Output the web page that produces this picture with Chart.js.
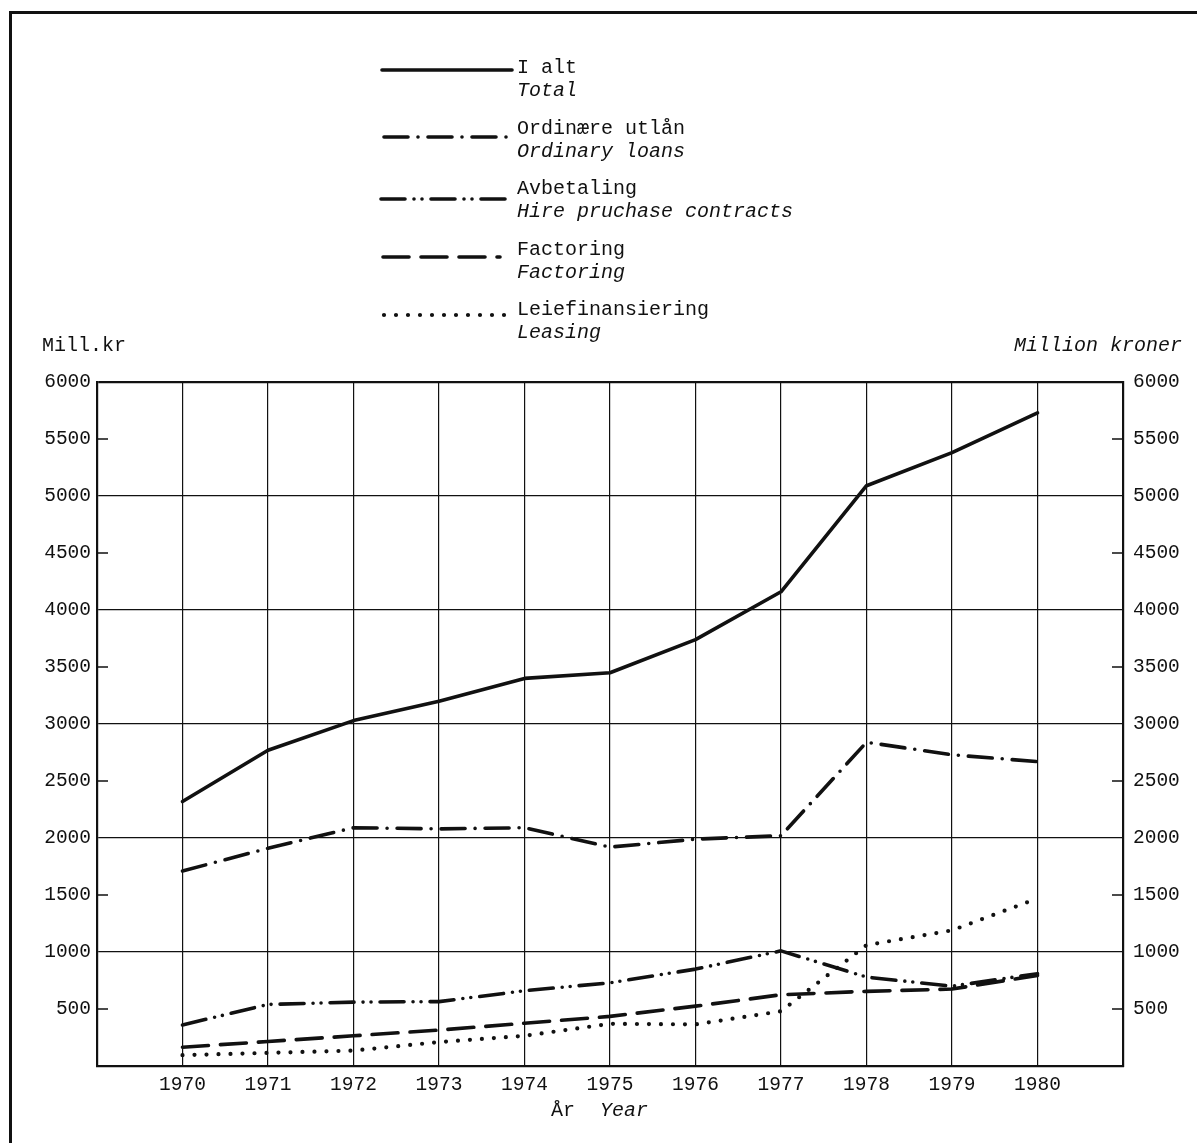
<!DOCTYPE html>
<html>
<head>
<meta charset="utf-8">
<script src="https://cdn.jsdelivr.net/npm/chart.js@4.4.1/dist/chart.umd.min.js"></script>
<style>
  html, body { margin: 0; padding: 0; background: #fff; }
  #wrap { position: relative; width: 1197px; height: 1143px; }
  #frame { position: absolute; left: 9px; top: 11px; right: 0; bottom: 0;
           border-left: 3px solid #111; border-top: 3px solid #111; pointer-events: none; }
</style>
</head>
<body>
<div id="wrap">
  <canvas id="chart"></canvas>
  <div id="frame"></div>
</div>
<script>
// ─── DATA (million kroner) ──────────────────────────────────────────────────
const YEARS = [1970, 1971, 1972, 1973, 1974, 1975, 1976, 1977, 1978, 1979, 1980];
const TOTAL    = [2320, 2770, 3030, 3200, 3400, 3450, 3740, 4160, 5090, 5380, 5730];
const ORDINARY = [1710, 1910, 2090, 2080, 2090, 1920, 1990, 2020, 2840, 2730, 2670];
const HIRE     = [360, 540, 560, 565, 660, 730, 850, 1010, 780, 700, 810];
const FACTOR   = [165, 215, 265, 315, 375, 435, 525, 625, 655, 675, 795];
const LEASING  = [95, 115, 135, 210, 265, 370, 365, 480, 1060, 1190, 1470];
const Y_TICKS = [500, 1000, 1500, 2000, 2500, 3000, 3500, 4000, 4500, 5000, 5500, 6000];

const FONT = '"Liberation Mono", "DejaVu Sans Mono", monospace';
const INK = '#111';

// line styles shared by plot and legend
const STYLES = {
  total:    { width: 3.6, dash: [] },
  ordinary: { width: 3.6, dash: [24, 10, 0, 10] },
  hire:     { width: 3.6, dash: [24, 9, 0, 8, 0, 9] },
  factor:   { width: 3.6, dash: [26, 12] },
  leasing:  { width: 4.2, dash: [0, 12] },
};

const LEGEND = [
  { key: 'total',    no: 'I alt',            en: 'Total',                   y: 68,  ly: 70,  x1: 382, x2: 512 },
  { key: 'ordinary', no: 'Ordinære utlån',   en: 'Ordinary loans',          y: 129, ly: 137, x1: 384, x2: 508 },
  { key: 'hire',     no: 'Avbetaling',       en: 'Hire pruchase contracts', y: 189, ly: 199, x1: 381, x2: 505 },
  { key: 'factor',   no: 'Factoring',        en: 'Factoring',               y: 250, ly: 257, x1: 383, x2: 500 },
  { key: 'leasing',  no: 'Leiefinansiering', en: 'Leasing',                 y: 310, ly: 315, x1: 384, x2: 506 },
];

function series(values, key) {
  const s = STYLES[key];
  return {
    label: key,
    data: YEARS.map((yr, i) => ({ x: yr, y: values[i] })),
    borderColor: INK,
    borderWidth: s.width,
    borderDash: s.dash,
    borderCapStyle: 'round',
    borderJoinStyle: 'round',
    pointRadius: 0,
    tension: 0,
    fill: false,
  };
}

// Legend, axis captions and the short half-thousand ticks drawn inside the axes
const decorPlugin = {
  id: 'decor',
  afterDraw(chart) {
    const { ctx, chartArea, scales } = chart;
    ctx.save();
    ctx.strokeStyle = INK;
    ctx.lineWidth = 1.6;
    Y_TICKS.filter(v => v % 1000 !== 0).forEach(v => {
      const py = scales.y.getPixelForValue(v);
      ctx.beginPath();
      ctx.moveTo(chartArea.left, py); ctx.lineTo(chartArea.left + 11, py);
      ctx.moveTo(chartArea.right - 11, py); ctx.lineTo(chartArea.right, py);
      ctx.stroke();
    });

    ctx.fillStyle = INK;
    ctx.textBaseline = 'middle';
    for (const item of LEGEND) {
      const s = STYLES[item.key];
      ctx.beginPath();
      ctx.setLineDash(s.dash);
      ctx.lineCap = 'round';
      ctx.lineWidth = s.width;
      ctx.moveTo(item.x1, item.ly); ctx.lineTo(item.x2, item.ly);
      ctx.stroke();
      ctx.setLineDash([]);
      ctx.textAlign = 'left';
      ctx.font = `20px ${FONT}`;
      ctx.fillText(item.no, 517, item.y);
      ctx.font = `italic 20px ${FONT}`;
      ctx.fillText(item.en, 517, item.y + 23);
    }

    ctx.font = `20px ${FONT}`;
    ctx.fillText('Mill.kr', 42, 346);
    ctx.textAlign = 'right';
    ctx.font = `italic 20px ${FONT}`;
    ctx.fillText('Million kroner', 1182, 346);

    ctx.textAlign = 'left';
    ctx.font = `20px ${FONT}`;
    ctx.fillText('År', 551, 1111);
    ctx.font = `italic 20px ${FONT}`;
    ctx.fillText('Year', 600, 1111);
    ctx.restore();
  },
};

const tickFont = { family: FONT, size: 19.5 };
const yTickCb = v => (v === 0 ? '' : String(v));

new Chart(document.getElementById('chart'), {
  type: 'line',
  data: {
    datasets: [
      series(TOTAL, 'total'),
      series(ORDINARY, 'ordinary'),
      series(HIRE, 'hire'),
      series(FACTOR, 'factor'),
      series(LEASING, 'leasing'),
    ],
  },
  options: {
    responsive: true,
    maintainAspectRatio: false,
    animation: false,
    layout: { padding: { top: 382, left: 0, right: 0, bottom: 0 } },
    plugins: { legend: { display: false }, tooltip: { enabled: false } },
    scales: {
      x: {
        type: 'linear',
        min: 1969, max: 1981,
        afterFit: s => { s.height = 77; },
        ticks: {
          stepSize: 1, color: INK, font: tickFont, padding: 7, maxRotation: 0, autoSkip: false,
          callback: v => (YEARS.includes(v) ? String(v) : ''),
        },
        grid: { drawTicks: false, color: INK, lineWidth: c => (c.tick && (c.tick.value === 1969 || c.tick.value === 1981) ? 2 : 1.2) },
        border: { display: true, color: INK, width: 2.2 },
      },
      y: {
        position: 'left',
        min: 0, max: 6000,
        afterFit: s => { s.width = 97; },
        ticks: { stepSize: 500, color: INK, font: tickFont, padding: 6, callback: yTickCb },
        grid: {
          drawTicks: false,
          color: c => (c.tick && c.tick.value % 1000 === 0 && c.tick.value > 0 ? INK : 'rgba(0,0,0,0)'),
          lineWidth: c => (c.tick && c.tick.value === 6000 ? 2.2 : 1.2),
        },
        border: { display: true, color: INK, width: 2.2 },
      },
      y2: {
        position: 'right',
        min: 0, max: 6000,
        afterFit: s => { s.width = 74; },
        ticks: { stepSize: 500, color: INK, font: tickFont, padding: 10, callback: yTickCb },
        grid: { display: false, drawTicks: false },
        border: { display: true, color: INK, width: 2.2 },
      },
    },
  },
  plugins: [decorPlugin],
});
</script>
</body>
</html>
